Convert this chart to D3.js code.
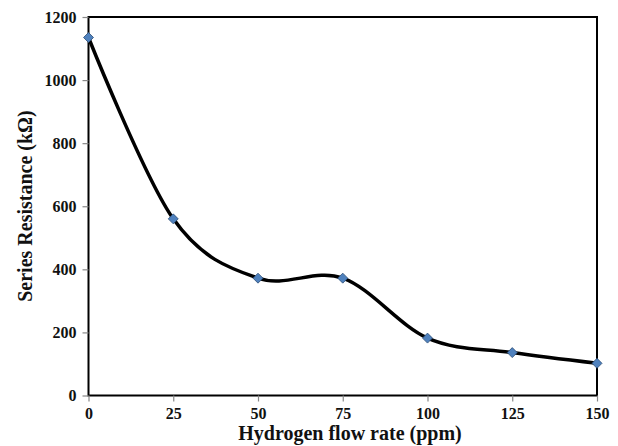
<html>
<head>
<meta charset="utf-8">
<script src="https://d3js.org/d3.v7.min.js"></script>
<style>
body { margin: 0; background: #fff; }
text { font-family: "Liberation Serif", "Times New Roman", serif; font-weight: bold; fill: #111; }
</style>
</head>
<body>
<svg id="chart" width="618" height="446"></svg>
<script>
// values
var flowRate = [0, 25, 50, 75, 100, 125, 150];
var resistance = [1135, 560, 372, 372, 182, 136, 102];
var xTicks = [0, 25, 50, 75, 100, 125, 150];
var yTicks = [0, 200, 400, 600, 800, 1000, 1200];

var svg = d3.select("#chart");
var mLeft = 88.5, mRight = 597, mTop = 17, mBottom = 395.5;

var x = d3.scaleLinear().domain([0, 150]).range([mLeft, mRight]);
var y = d3.scaleLinear().domain([0, 1200]).range([mBottom, mTop]);

var data = flowRate.map(function(d, i) { return {x: d, y: resistance[i]}; });

// frame
svg.append("rect")
  .attr("x", mLeft).attr("y", mTop)
  .attr("width", mRight - mLeft).attr("height", mBottom - mTop)
  .attr("fill", "none").attr("stroke", "#000").attr("stroke-width", 2);

var yAxis = svg.append("g")
  .attr("transform", "translate(" + mLeft + ",0)")
  .call(d3.axisLeft(y).tickValues(yTicks).tickFormat(d3.format("d")).tickSize(6).tickPadding(6));
var xAxis = svg.append("g")
  .attr("transform", "translate(0," + mBottom + ")")
  .call(d3.axisBottom(x).tickValues(xTicks).tickFormat(d3.format("d")).tickSize(6).tickPadding(6));

[xAxis, yAxis].forEach(function(g) {
  g.select(".domain").remove();
  g.selectAll(".tick line").attr("stroke", "#888").attr("stroke-width", 1.2);
  g.selectAll(".tick text").style("font-size", "16px").attr("fill", "#161630");
});

// curve
var line = d3.line()
  .x(function(d) { return x(d.x); })
  .y(function(d) { return y(d.y); })
  .curve(d3.curveCardinal.tension(0));

svg.append("path")
  .datum(data)
  .attr("d", line)
  .attr("fill", "none")
  .attr("stroke", "#000")
  .attr("stroke-width", 3.5);

// diamond markers
svg.selectAll(".pt")
  .data(data)
  .enter().append("path")
  .attr("class", "pt")
  .attr("transform", function(d) { return "translate(" + x(d.x) + "," + y(d.y) + ")"; })
  .attr("d", "M0,-5L5,0L0,5L-5,0Z")
  .attr("fill", "#4f81bd")
  .attr("stroke", "#2c4d75")
  .attr("stroke-width", 0.8);

// axis titles
svg.append("text")
  .attr("x", 350).attr("y", 440)
  .attr("text-anchor", "middle")
  .style("font-size", "20px")
  .text("Hydrogen flow rate (ppm)");

svg.append("text")
  .attr("transform", "translate(32,206) rotate(-90)")
  .attr("text-anchor", "middle")
  .style("font-size", "20px")
  .text("Series Resistance (kΩ)");
</script>
</body>
</html>
